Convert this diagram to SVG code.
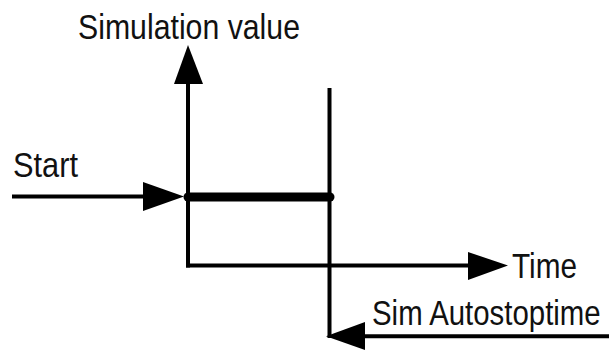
<svg xmlns="http://www.w3.org/2000/svg" width="609" height="351" viewBox="0 0 609 351">
  <style>
    .line { stroke: #000; stroke-width: 4; fill: none; }
    .head { fill: #000; stroke: none; }
    .label { font-family: "Liberation Sans", Arial, sans-serif; font-size: 35px; fill: #111; }
  </style>
  <rect width="609" height="351" fill="#fff"/>

  <g id="connectors">
    <!-- value axis -->
    <line class="line" x1="188" y1="82" x2="188" y2="267.5"/>
    <polygon class="head" points="188,45 203,84 174,84"/>
    <!-- time axis -->
    <line class="line" x1="186" y1="265.5" x2="470" y2="265.5"/>
    <polygon class="head" points="508,265.5 468,252 468,280"/>
    <!-- start marker -->
    <line class="line" x1="12" y1="196.5" x2="145" y2="196.5"/>
    <polygon class="head" points="184,196.5 143,182 143,211"/>
    <!-- stop time line -->
    <line class="line" x1="329.5" y1="88" x2="329.5" y2="338"/>
    <line class="line" x1="363" y1="336.3" x2="609" y2="336.3"/>
    <polygon class="head" points="326,336.3 365,322 365,350"/>
    <!-- simulated interval -->
    <line x1="188" y1="197" x2="330" y2="197" stroke="#000" stroke-width="9" stroke-linecap="round"/>
  </g>

  <g id="label-value">
    <text class="label" x="78" y="39" textLength="222" lengthAdjust="spacingAndGlyphs">Simulation value</text>
  </g>
  <g id="label-start">
    <text class="label" x="13" y="177" textLength="65" lengthAdjust="spacingAndGlyphs">Start</text>
  </g>
  <g id="label-time">
    <text class="label" x="512" y="278" textLength="65" lengthAdjust="spacingAndGlyphs">Time</text>
  </g>
  <g id="label-stop">
    <!-- horizontally condensed to fit before the right edge -->
    <text class="label" transform="translate(372,325) scale(0.84,1)" x="0" y="0">Sim Autostoptime</text>
  </g>
</svg>
